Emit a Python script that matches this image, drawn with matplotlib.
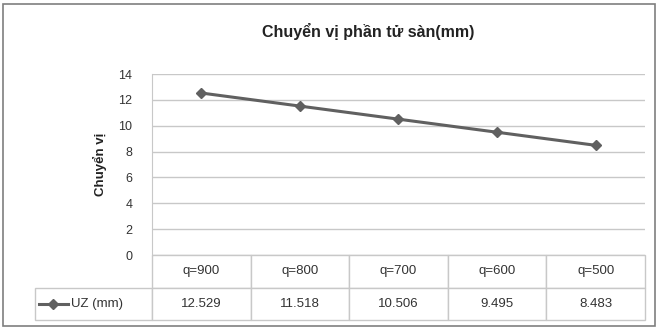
import matplotlib
matplotlib.use("Agg")
import matplotlib.pyplot as plt
from matplotlib.lines import Line2D
from matplotlib.patches import Rectangle

categories = ["q=900", "q=800", "q=700", "q=600", "q=500"]
uz_values = [12.529, 11.518, 10.506, 9.495, 8.483]
value_labels = ["12.529", "11.518", "10.506", "9.495", "8.483"]
series_name = "UZ (mm)"
yticks = [0, 2, 4, 6, 8, 10, 12, 14]

plt.rcParams['font.family'] = ['Liberation Sans', 'DejaVu Sans']

W, H = 659, 329
fig = plt.figure(figsize=(W / 100, H / 100), dpi=100)

# outer border
fig.patches.append(Rectangle((3 / W, 3 / H), (W - 7) / W, (H - 7) / H,
                             transform=fig.transFigure, fill=False,
                             edgecolor='#7f7f7f', linewidth=1.2))

left, right, top, bottom = 152, 645, 74, 255
ax = fig.add_axes([left / W, (H - bottom) / H, (right - left) / W, (bottom - top) / H])

x = list(range(len(categories)))
ax.plot(x, uz_values, color='#606060', linewidth=2.2, marker='D',
        markersize=5.5, markerfacecolor='#606060', markeredgecolor='#606060')
ax.set_xlim(-0.5, len(categories) - 0.5)
ax.set_ylim(0, 14)
ax.set_yticks(yticks)
ax.yaxis.grid(True, color='#c8c8c8', linewidth=1.0)
ax.set_axisbelow(True)
ax.set_xticks([])
ax.tick_params(axis='y', length=0, labelsize=9, colors='#333333', pad=14)
for s in ['top', 'right', 'bottom']:
    ax.spines[s].set_visible(False)
ax.spines['left'].set_color('#c8c8c8')
ax.set_ylabel("Chuyển vị", fontsize=9.5, fontweight='bold', color='#222222', labelpad=8)

fig.text(368 / W, (H - 31) / H, "Chuyển vị phần tử sàn(mm)", fontsize=11.5,
         fontweight='bold', color='#222222', ha='center', va='center')

# data table
tbl_left = 35
row_h = 32.5
col_w = (right - left) / len(categories)
label_w = left - tbl_left
ax_h = bottom - top
ax_w = right - left
cellText = [[""] + value_labels]
colLabels = [""] + categories
widths = [label_w / ax_w] + [col_w / ax_w] * len(categories)
tbl = ax.table(cellText=cellText, colLabels=colLabels, colWidths=widths,
               cellLoc='center',
               bbox=[-label_w / ax_w, -2 * row_h / ax_h, 1 + label_w / ax_w, 2 * row_h / ax_h])
tbl.auto_set_font_size(False)
for (r, c), cell in tbl.get_celld().items():
    cell.set_edgecolor('#c8c8c8')
    cell.set_linewidth(1.0)
    cell.get_text().set_fontsize(9.5)
    cell.get_text().set_color('#333333')
    if r == 0 and c == 0:
        cell.visible_edges = ''
tbl.get_celld()[(0, 0)].set_facecolor('none')

# legend key inside the row label cell
ly = (H - (bottom + 1.5 * row_h)) / H
fig.add_artist(Line2D([39 / W, 68 / W], [ly, ly], transform=fig.transFigure,
                      color='#606060', linewidth=2.2, marker=None))
fig.add_artist(Line2D([53 / W], [ly], transform=fig.transFigure,
                      color='#606060', marker='D', markersize=5.5))
fig.text(71 / W, ly, series_name, fontsize=9.5, color='#333333', va='center', ha='left')

fig.savefig("out.png", dpi=100)
